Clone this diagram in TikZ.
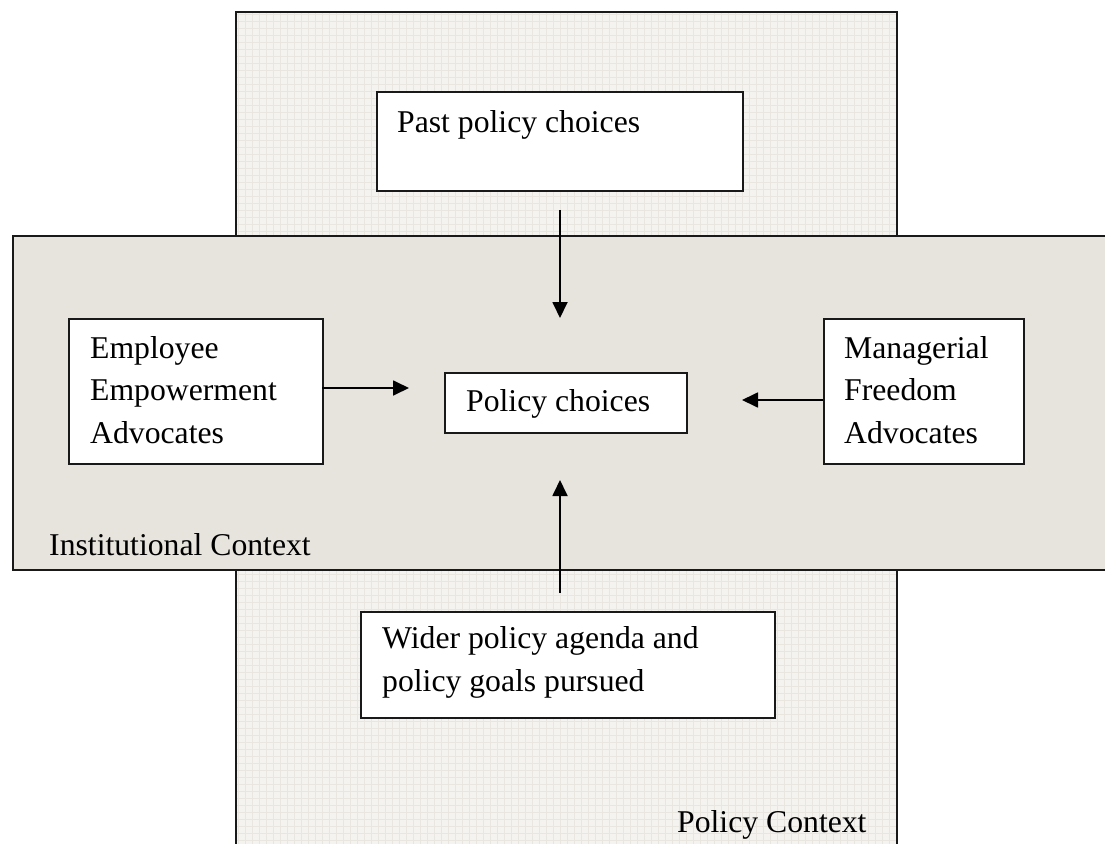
\documentclass[tikz,border=0pt]{standalone}
\usepackage{fontspec}
\setmainfont{Liberation Serif}
\usetikzlibrary{arrows.meta}
\definecolor{instfill}{HTML}{E7E3DD}
\definecolor{polfill}{HTML}{F5F3EF}
\definecolor{gridc}{HTML}{E9E6E0}
\begin{document}
\begin{tikzpicture}[x=1pt,y=-1pt,
  box/.style={draw=black!90, line width=1.8pt, fill=white, anchor=north west, inner sep=0pt},
  txt/.style={anchor=base west, inner sep=0pt, font=\fontsize{31.7}{42.5}\selectfont, align=left},
  arr/.style={line width=1.8pt, -{Triangle[length=16pt,width=15pt]}},
  frame/.style={line width=1.8pt, draw=black!90}]
\useasboundingbox (0,0) rectangle (1105,843);
% Policy context (vertical band)
\fill[polfill] (236,12) rectangle (897,850);
\begin{scope}
  \clip (236,12) rectangle (897,850);
  \draw[gridc, line width=0.6pt, step=7pt] (230,5) grid (900,850);
\end{scope}
\draw[frame] (236,850) -- (236,12) -- (897,12) -- (897,850);
% Institutional context (horizontal band)
\fill[instfill] (13,236) rectangle (1110,570);
\draw[frame] (1110,236) -- (13,236) -- (13,570) -- (1110,570);
% Boxes
\node[box, minimum width=366pt, minimum height=99pt] (past) at (376,91) {};
\node[box, minimum width=254pt, minimum height=145pt] (emp) at (68,318) {};
\node[box, minimum width=242pt, minimum height=60pt] (pc) at (444,372) {};
\node[box, minimum width=200pt, minimum height=145pt] (man) at (823,318) {};
\node[box, minimum width=414pt, minimum height=106pt] (wider) at (360,611) {};
% Texts (base anchor = baseline of the last line)
\node[txt] (pasttxt) at (397,132) {Past policy choices};
\node[txt] (emptxt) at (90,443) {Employee\\Empowerment\\Advocates};
\node[txt] (pctxt) at (466,411) {Policy choices};
\node[txt] (mantxt) at (844,443) {Managerial\\Freedom\\Advocates};
\node[txt] (widertxt) at (382,691) {Wider policy agenda and\\policy goals pursued};
\node[txt] (insttxt) at (49,555) {Institutional Context};
\node[txt] (poltxt) at (677,832) {Policy Context};
% Arrow end points
\coordinate (tA) at (560,210);
\coordinate (tB) at (560,318);
\coordinate (lA) at (322,388);
\coordinate (lB) at (409,388);
\coordinate (rA) at (823,400);
\coordinate (rB) at (742,400);
\coordinate (bA) at (560,593);
\coordinate (bB) at (560,480);
\draw[arr] (tA) -- (tB);
\draw[arr] (lA) -- (lB);
\draw[arr] (rA) -- (rB);
\draw[arr] (bA) -- (bB);
\end{tikzpicture}
\end{document}
